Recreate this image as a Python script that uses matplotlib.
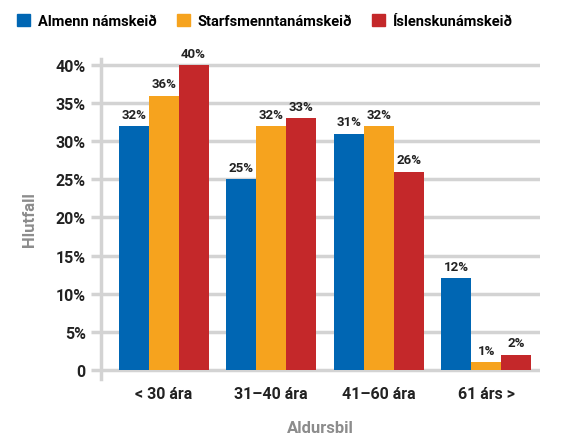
import numpy as np
import matplotlib.pyplot as plt
from matplotlib.patches import Patch

# data
groups = ["< 30 ára", "31–40 ára", "41–60 ára", "61 árs >"]
series = ["Almenn námskeið", "Starfsmenntanámskeið", "Íslenskunámskeið"]
almenn = [32, 25, 31, 12]
starfs = [36, 32, 32, 1]
islensku = [40, 33, 26, 2]
colors = ["#0066b3", "#f6a31e", "#c4282a"]

plt.rcParams["font.family"] = ["Roboto", "DejaVu Sans"]
plt.rcParams["font.weight"] = "bold"

fig = plt.figure(figsize=(5.72, 4.39), dpi=100)
ax = fig.add_axes([101 / 572, 59 / 439, 439 / 572, 320 / 439])

x = np.arange(len(groups))
w = 0.278
for i, (vals, c) in enumerate(zip([almenn, starfs, islensku], colors)):
    pos = x + (i - 1) * w
    ax.bar(pos, vals, width=w, color=c, zorder=3)
    for p, v in zip(pos, vals):
        ax.text(p, v + 0.7, f"{v}%", ha="center", va="bottom",
                fontsize=9.5, fontweight="bold", color="#222222", zorder=4)

ax.set_xlim(-0.583, 3.5)
ax.set_ylim(-1.2, 40.8)
ax.set_yticks(range(0, 45, 5))
ax.set_yticklabels(["0"] + [f"{v}%" for v in range(5, 45, 5)])
ax.set_xticks(x)
ax.set_xticklabels(groups)
ax.yaxis.grid(True, color="#d3d3d3", linewidth=2.5, zorder=0)
ax.set_axisbelow(True)
for s in ["top", "right", "bottom"]:
    ax.spines[s].set_visible(False)
ax.spines["left"].set_color("#d3d3d3")
ax.spines["left"].set_linewidth(2.5)
ax.tick_params(axis="y", length=7, width=2.5, color="#d3d3d3",
               labelsize=11.5, labelcolor="#222222", pad=4)
ax.tick_params(axis="x", length=0, labelsize=11.5, labelcolor="#222222", pad=5)

ax.set_ylabel("Hlutfall", fontsize=12, fontweight="bold", color="#8c8c8c", labelpad=13)
ax.set_xlabel("Aldursbil", fontsize=12, fontweight="bold", color="#8c8c8c", labelpad=14)

handles = [Patch(color=c) for c in colors]
fig.legend(handles, series, loc="upper left", bbox_to_anchor=(0.015, 0.985), ncol=3,
           frameon=False, fontsize=10.5, handlelength=0.9, handleheight=0.9,
           columnspacing=1.4, handletextpad=0.5, borderaxespad=0.2)

fig.savefig("out.png", dpi=100)
